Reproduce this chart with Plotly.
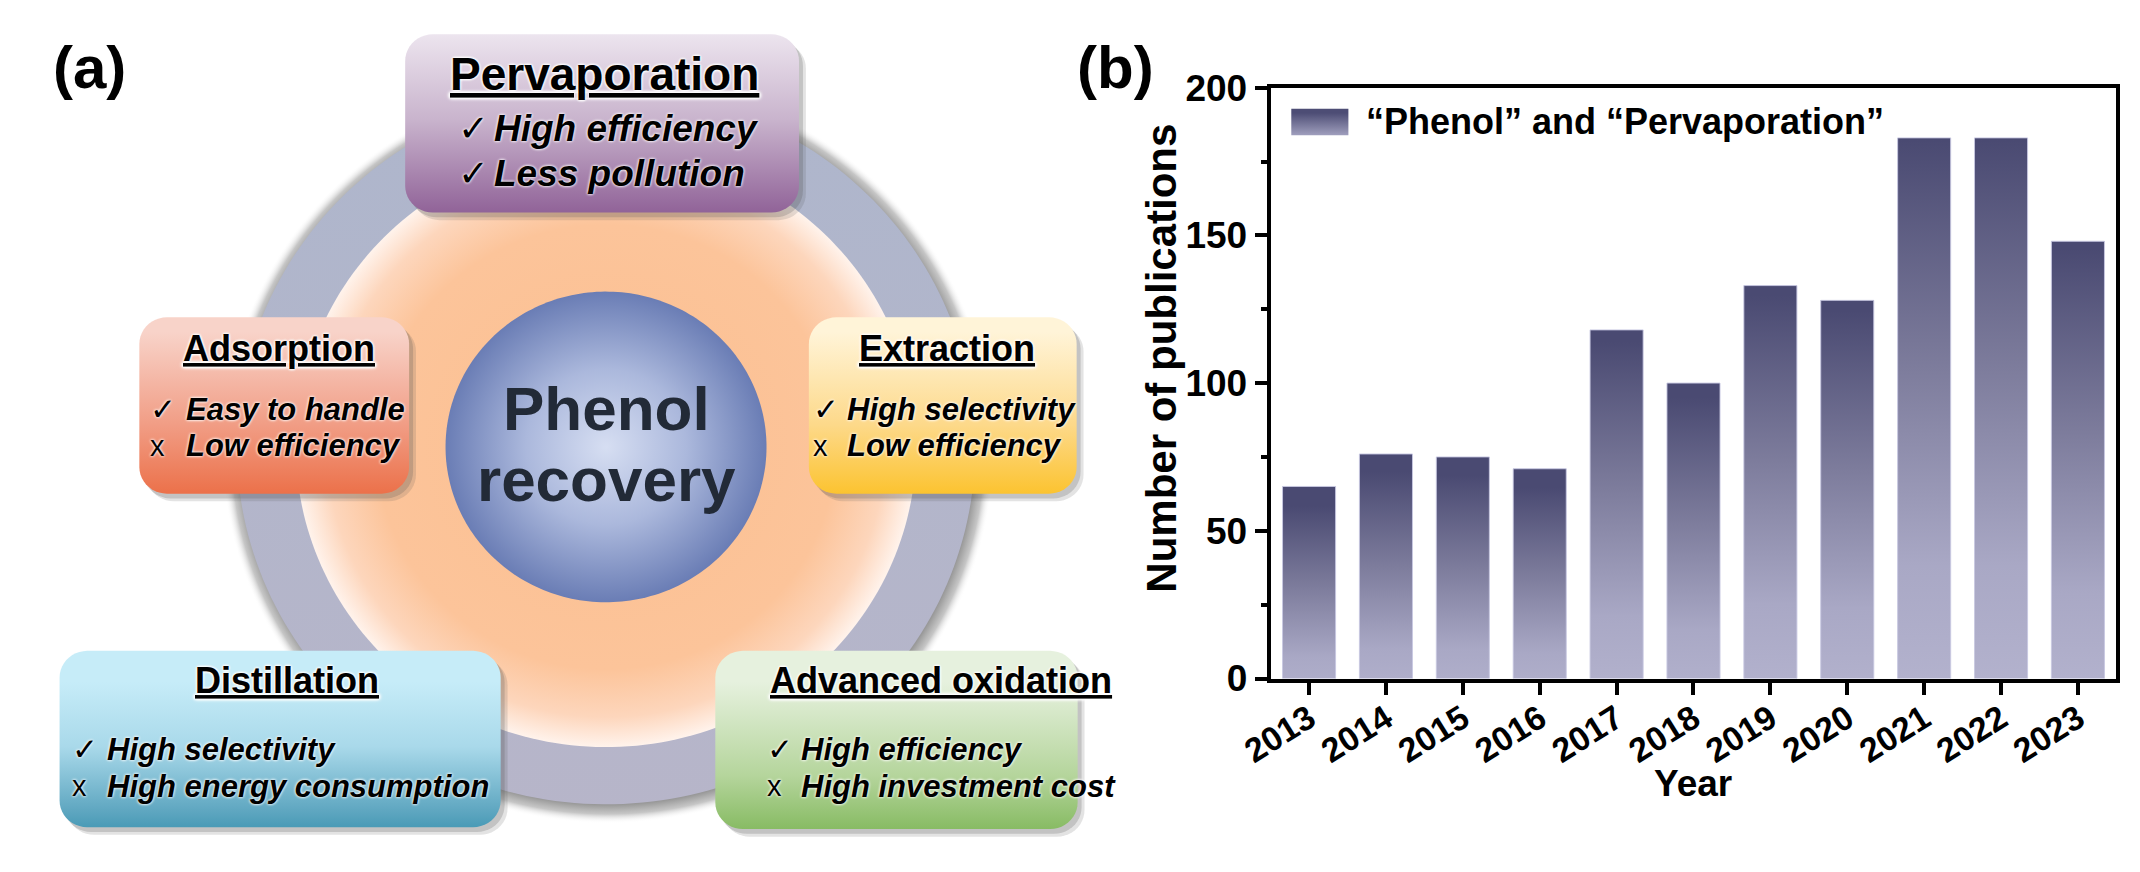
import numpy as np
import plotly.graph_objects as go

# ---------------- panel (b) data ----------------
years = [2013, 2014, 2015, 2016, 2017, 2018, 2019, 2020, 2021, 2022, 2023]
publications = [65, 76, 75, 71, 118, 100, 133, 128, 183, 183, 148]
y_tick_values = [0, 50, 100, 150, 200]
series_name = "“Phenol” and “Pervaporation”"
x_title = "Year"
y_title = "Number of publications"

# ---------------- panel (a) text ----------------
center_lines = ["Phenol", "recovery"]
method_titles = ["Pervaporation", "Adsorption", "Extraction", "Distillation", "Advanced oxidation"]
method_marks = [["✓", "✓"], ["✓", "x"], ["✓", "x"], ["✓", "x"], ["✓", "x"]]
method_points = [
    ["High efficiency", "Less pollution"],
    ["Easy to handle", "Low efficiency"],
    ["High selectivity", "Low efficiency"],
    ["High selectivity", "High energy consumption"],
    ["High efficiency", "High investment cost"],
]
panel_labels = ["(a)", "(b)"]

# ---------------- styling / layout geometry (pixels) ----------------
W, H = 2140, 872
FONT = "Liberation Sans, Arial, sans-serif"
GLOW = "0px 0px 3px #ffffff, 0px 0px 3px #ffffff"

box_geom = [
    dict(b=(378, 15, 778, 202), t=(580, 57), mx=430, tx=466, ly=(114, 161), ts=46, ls=37),
    dict(b=(108, 312, 382, 497), t=(250, 345), mx=117, tx=153, ly=(409, 447), ts=36, ls=31),
    dict(b=(788, 312, 1060, 497), t=(928, 345), mx=790, tx=825, ly=(409, 447), ts=36, ls=31),
    dict(b=(27, 662, 475, 847), t=(258, 693), mx=38, tx=73, ly=(765, 804), ts=36, ls=31),
    dict(b=(693, 662, 1061, 849), t=(922, 693), mx=743, tx=778, ly=(765, 804), ts=36, ls=31),
]
box_colors = [
    [[0, "#ece4ee"], [0.45, "#c9b4cd"], [1, "#8b5b93"]],
    [[0, "#f8d3c9"], [0.5, "#f19d85"], [1, "#ea6236"]],
    [[0, "#fff4d8"], [0.5, "#fdd98a"], [1, "#fbbc12"]],
    [[0, "#c6ecf8"], [0.35, "#a9d9ea"], [0.7, "#5ea6c0"], [1, "#157e9e"]],
    [[0, "#e6f1de"], [0.5, "#b5d59c"], [1, "#66a83a"]],
]
CX, CY = 582, 448
R_RING, R_DISC, R_SPHERE = 375, 315, 163

bar_half = 0.345
bar_scale = [[0, "#b5b4cf"], [0.25, "#a9a8c5"], [0.6, "#7d7c9c"], [1, "#4a4a72"]]

plot_x0, plot_x1, plot_y0, plot_y1 = 1257, 2116, 71, 691


def circle(cx, cy, r, n=240):
    t = np.linspace(0, 2 * np.pi, n)
    return list(cx + r * np.cos(t)), list(cy + r * np.sin(t))


def rrect(x0, y0, x1, y1, r, n=12):
    xs, ys = [], []
    for cx, cy, a0, a1 in [(x1 - r, y0 + r, -90, 0), (x1 - r, y1 - r, 0, 90),
                           (x0 + r, y1 - r, 90, 180), (x0 + r, y0 + r, 180, 270)]:
        for t in np.radians(np.linspace(a0, a1, n)):
            xs.append(cx + r * np.cos(t))
            ys.append(cy + r * np.sin(t))
    xs.append(xs[0]); ys.append(ys[0])
    return xs, ys


def deco(xs, ys, fill=None, grad=None):
    kw = dict(x=xs, y=ys, xaxis="x2", yaxis="y2", mode="none", fill="toself",
              hoverinfo="skip", showlegend=False)
    if grad is not None:
        kw["fillgradient"] = grad
    else:
        kw["fillcolor"] = fill
    return go.Scatter(**kw)


fig = go.Figure()

# ---- panel (b): gradient bars drawn from the data ----
for yr, v in zip(years, publications):
    fig.add_trace(go.Scatter(
        x=[yr - bar_half, yr + bar_half, yr + bar_half, yr - bar_half, yr - bar_half],
        y=[0, 0, v, v, 0],
        mode="lines", line=dict(color="rgba(200,200,225,0.9)", width=1),
        fill="toself",
        fillgradient=dict(type="vertical", colorscale=bar_scale, start=0, stop=v),
        name=series_name, showlegend=False,
        hovertemplate="%{x}: " + str(v) + "<extra></extra>",
    ))

# ---- panel (a) diagram ----
xs, ys = circle(CX + 2, CY + 3, R_RING + 17)
fig.add_trace(deco(xs, ys, grad=dict(type="radial", colorscale=[
    [0, "#979797"], [0.95, "#999999"], [0.975, "rgba(160,160,160,0.6)"], [1, "rgba(255,255,255,0)"]])))
xs, ys = circle(CX, CY, R_RING)
fig.add_trace(deco(xs, ys, grad=dict(type="vertical", start=CY - R_RING, stop=CY + R_RING,
                                     colorscale=[[0, "#aeb6cc"], [1, "#b7b5c9"]])))
xs, ys = circle(CX, CY, R_DISC)
fig.add_trace(deco(xs, ys, grad=dict(type="radial", colorscale=[
    [0, "#fbbf90"], [0.74, "#fcc49a"], [0.9, "#fdd6bc"], [1, "#fff3ec"]])))
xs, ys = circle(CX, CY, R_SPHERE)
fig.add_trace(deco(xs, ys, grad=dict(type="radial", colorscale=[
    [0, "#d6def2"], [0.5, "#abb8dc"], [1, "#6a7db5"]])))

for g, sc in zip(box_geom, box_colors):
    x0, y0, x1, y1 = g["b"]
    for dx, dy, a in [(7, 8, 0.16), (4, 5, 0.22)]:
        xs, ys = rrect(x0 + dx, y0 + dy, x1 + dx, y1 + dy, 28)
        fig.add_trace(deco(xs, ys, fill=f"rgba(80,80,80,{a})"))
    xs, ys = rrect(x0, y0, x1, y1, 28)
    fig.add_trace(deco(xs, ys, grad=dict(type="vertical", start=y0, stop=y1, colorscale=sc)))

# legend swatch
xs, ys = [1278, 1336, 1336, 1278, 1278], [93, 93, 121, 121, 93]
fig.add_trace(deco(xs, ys, grad=dict(type="vertical", start=93, stop=121,
                                     colorscale=[[0, "#4d4d75"], [1, "#b5b4d0"]])))

ann = []
def A(text, x, y, size, weight=700, style="normal", xanchor="center", color="#000000",
      shadow=None, under=False, angle=0):
    f = dict(family=FONT, size=size, color=color, weight=weight, style=style)
    if shadow:
        f["shadow"] = shadow
    if under:
        f["lineposition"] = "under"
    ann.append(dict(text=text, x=x, y=y, xref="x2", yref="y2", xanchor=xanchor,
                    yanchor="middle", showarrow=False, font=f, textangle=angle))

for g, title, marks, pts in zip(box_geom, method_titles, method_marks, method_points):
    A(title, g["t"][0], g["t"][1], g["ts"], shadow=GLOW, under=True)
    for m, p, ly in zip(marks, pts, g["ly"]):
        A(m, g["mx"], ly, g["ls"] if m == "✓" else g["ls"] - 2, weight=400,
          xanchor="left", shadow=GLOW)
        A(p, g["tx"], ly, g["ls"], style="italic", xanchor="left", shadow=GLOW)

A(center_lines[0], CX, 408, 62, color="#222a37")
A(center_lines[1], CX, 482, 62, color="#222a37")
A(panel_labels[0], 57, 50, 60)
A(panel_labels[1], 1099, 50, 60)
A(series_name, 1352, 106, 36, xanchor="left")
A(y_title, 1146, 355, 42, angle=-90)
A(x_title, (plot_x0 + plot_x1) / 2, 801, 37)

tick_font = dict(family=FONT, size=37, color="#000000", weight=700)
xtick_font = dict(family=FONT, size=34, color="#000000", weight=700)
fig.update_layout(
    width=W, height=H, margin=dict(l=0, r=0, t=0, b=0),
    paper_bgcolor="white", plot_bgcolor="rgba(0,0,0,0)",
    showlegend=False,
    annotations=ann,
    xaxis=dict(domain=[plot_x0 / W, plot_x1 / W], range=[2012.5, 2023.5],
               tickvals=years, ticktext=[str(y) for y in years], tickangle=-32,
               ticks="outside", ticklen=12, tickwidth=4, tickcolor="black",
               ticklabelstandoff=-9,
               showline=True, linewidth=4, linecolor="black", mirror=True,
               showgrid=False, zeroline=False, tickfont=xtick_font, anchor="y"),
    yaxis=dict(domain=[1 - plot_y1 / H, 1 - plot_y0 / H], range=[0, 200],
               tickvals=y_tick_values, ticks="outside", ticklen=12, tickwidth=4,
               tickcolor="black",
               minor=dict(dtick=25, ticks="outside", ticklen=6, tickwidth=4, tickcolor="black"),
               showline=True, linewidth=4, linecolor="black", mirror=True,
               showgrid=False, zeroline=False, tickfont=tick_font, anchor="x"),
    xaxis2=dict(domain=[0, 1], range=[0, W], visible=False, fixedrange=True, anchor="y2"),
    yaxis2=dict(domain=[0, 1], range=[H, 0], visible=False, fixedrange=True, anchor="x2"),
)

fig.write_html(
    "out.html", config={"displayModeBar": False},
    post_script=("document.documentElement.style.margin='0';"
                 "document.documentElement.style.overflow='hidden';"
                 "document.body.style.margin='0';document.body.style.padding='0';"
                 "document.body.style.overflow='hidden';"),
)
